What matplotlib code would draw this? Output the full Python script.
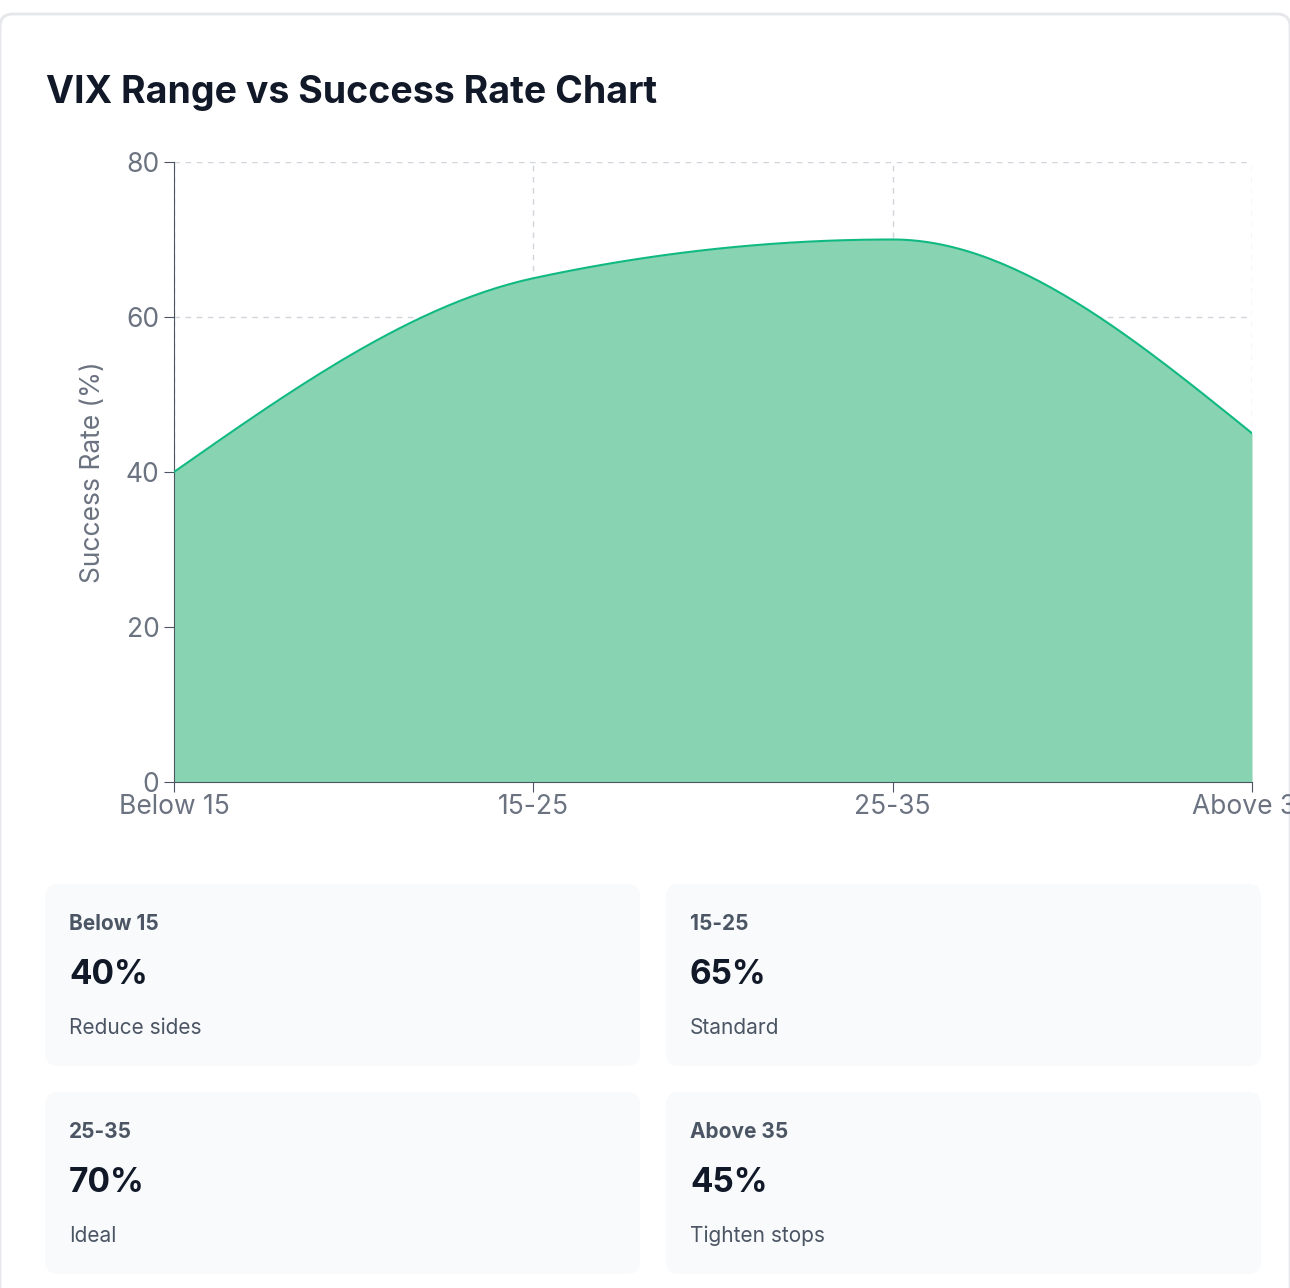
import numpy as np
import matplotlib.pyplot as plt
from matplotlib.patches import FancyBboxPatch

# data
ranges = ["Below 15", "15-25", "25-35", "Above 35"]
success = [40, 65, 70, 45]
notes = ["Reduce sides", "Standard", "Ideal", "Tighten stops"]

W, H = 1290, 1288
plt.rcParams['font.family'] = ['Inter', 'DejaVu Sans']
fig = plt.figure(figsize=(W / 100, H / 100), dpi=100)


def fx(px):
    return px / W


def fy(py):
    return 1 - py / H


# card border at top
fig.add_artist(FancyBboxPatch((fx(0), fy(1300)), fx(1290), fy(14) - fy(1300),
                              boxstyle="round,pad=0,rounding_size=0.01",
                              transform=fig.transFigure, fc="white", ec="#e5e7eb", lw=2,
                              zorder=-10))
fig.text(fx(46), fy(93), "VIX Range vs Success Rate Chart", fontsize=27, fontweight="bold",
         color="#111827", va="center")


def monotone(x, y, n=60):
    # Fritsch-Carlson monotone cubic, like d3 curveMonotoneX
    x = np.asarray(x, float); y = np.asarray(y, float)
    h = np.diff(x); d = np.diff(y) / h
    m = np.zeros_like(y)
    for i in range(1, len(y) - 1):
        if d[i - 1] * d[i] > 0:
            m[i] = (np.sign(d[i - 1]) + np.sign(d[i])) * min(abs(d[i - 1]), abs(d[i]),
                    0.5 * abs((h[i - 1] * d[i] + h[i] * d[i - 1]) / (h[i - 1] + h[i])))
    m[0] = (3 * d[0] - m[1]) / 2 if len(y) > 2 else d[0]
    m[-1] = (3 * d[-1] - m[-2]) / 2
    xs, ys = [], []
    for i in range(len(h)):
        t = np.linspace(0, 1, n)
        h00 = 2 * t**3 - 3 * t**2 + 1; h10 = t**3 - 2 * t**2 + t
        h01 = -2 * t**3 + 3 * t**2; h11 = t**3 - t**2
        xs.append(x[i] + t * h[i])
        ys.append(h00 * y[i] + h10 * h[i] * m[i] + h01 * y[i + 1] + h11 * h[i] * m[i + 1])
    return np.concatenate(xs), np.concatenate(ys)


ax = fig.add_axes([fx(174), fy(782), fx(1252) - fx(174), fy(162) - fy(782)])
ax.set_zorder(5)
ax.patch.set_alpha(0)
xi = np.arange(len(ranges))
cx, cy = monotone(xi, success)
ax.fill_between(cx, cy, 0, color="#88d4b2", lw=0, zorder=2)
ax.plot(cx, cy, color="#10b981", lw=1.5, zorder=3)
ax.set_xlim(0, len(ranges) - 1)
ax.set_ylim(0, 80)
ax.set_yticks([0, 20, 40, 60, 80])
ax.set_xticks(xi)
ax.set_xticklabels(ranges)
ax.grid(True, ls=(0, (4, 4)), color="#d1d5db", lw=1, zorder=4)
for s in ["top", "right"]:
    ax.spines[s].set_visible(False)
for s in ["left", "bottom"]:
    ax.spines[s].set_color("#4b5563")
ax.tick_params(colors="#4b5563", labelcolor="#6b7280", labelsize=19, length=7)
ax.tick_params(axis="x", pad=2)
ax.set_ylabel("Success Rate (%)", fontsize=19, color="#6b7280", labelpad=14)

# summary cards
boxes = [(45, 884), (666, 884), (45, 1092), (666, 1092)]
for (bx, by), r, v, n in zip(boxes, ranges, success, notes):
    fig.add_artist(FancyBboxPatch((fx(bx), fy(by + 182)), fx(595), fy(by) - fy(by + 182),
                                  boxstyle="round,pad=0,rounding_size=0.01",
                                  transform=fig.transFigure, fc="#f8fafc", ec="none",
                                  zorder=-5))
    fig.text(fx(bx + 24), fy(by + 40), r, fontsize=15, fontweight="bold", color="#4b5563", va="center")
    fig.text(fx(bx + 24), fy(by + 91), f"{v}%", fontsize=24, fontweight="bold", color="#111827", va="center")
    fig.text(fx(bx + 24), fy(by + 144), n, fontsize=15, color="#4b5563", va="center")

fig.savefig("out.png", dpi=100, facecolor="white")
